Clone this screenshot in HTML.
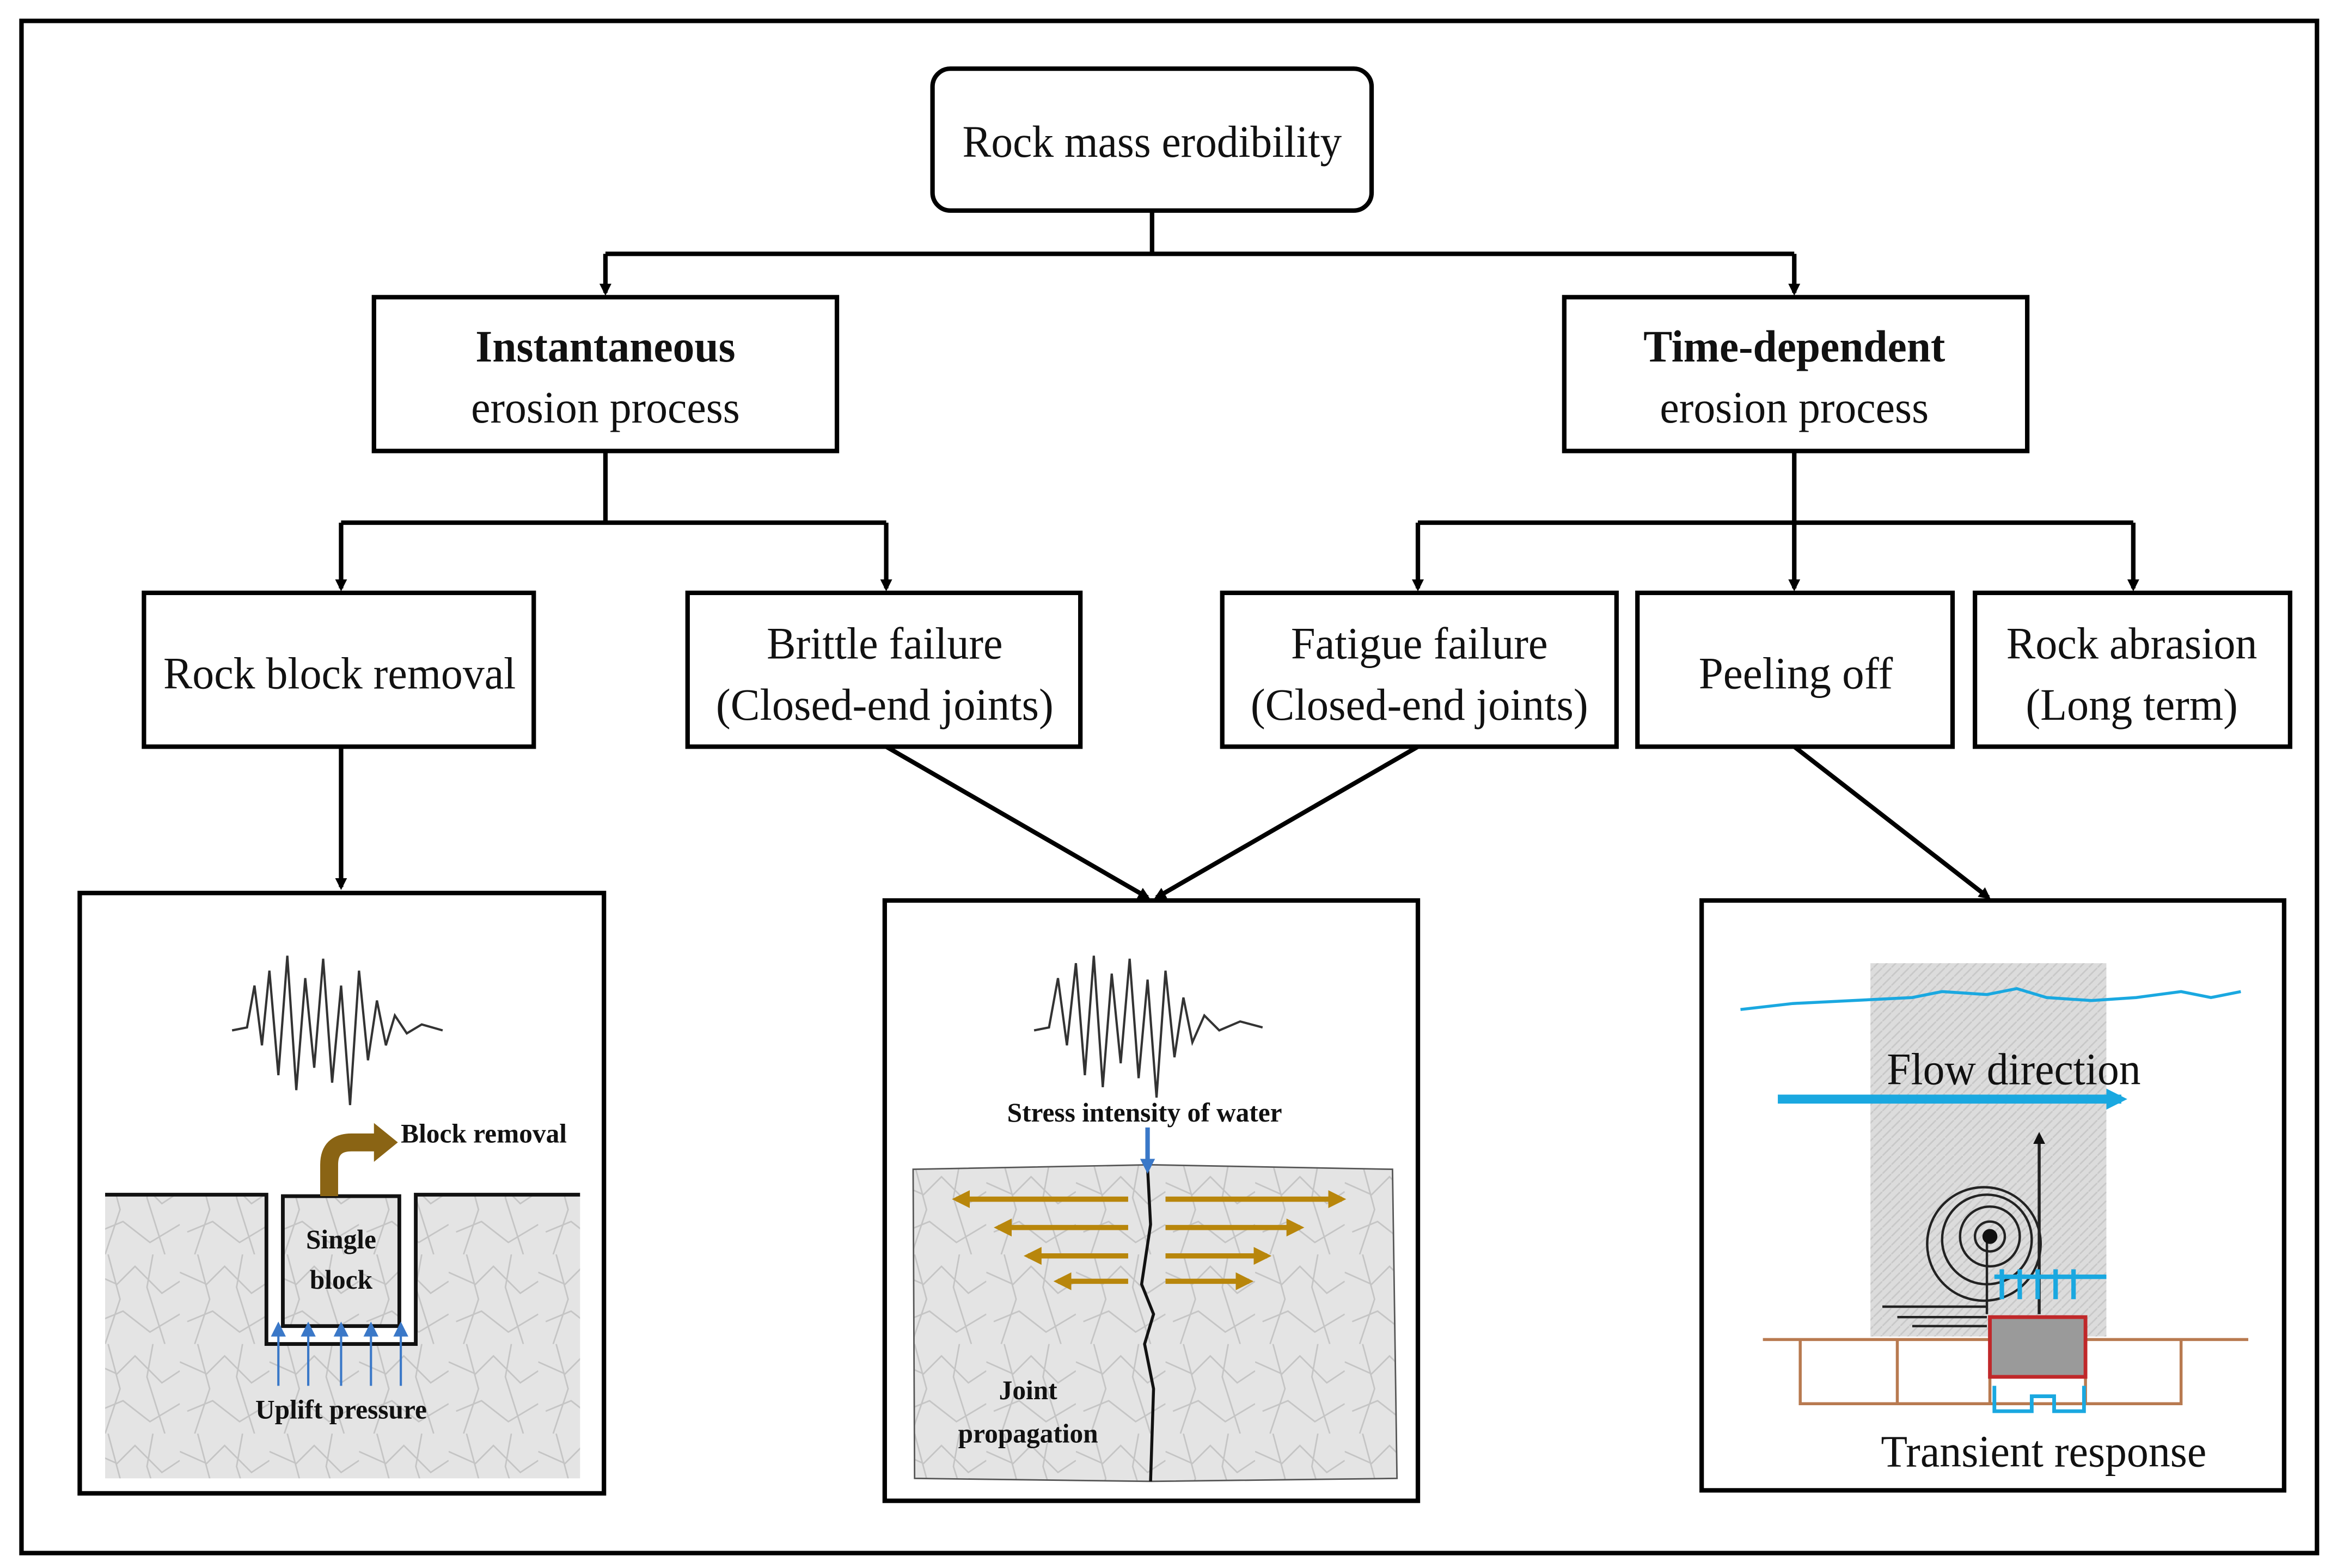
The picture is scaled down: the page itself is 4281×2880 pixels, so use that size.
<!DOCTYPE html>
<html><head><meta charset="utf-8"><style>html,body{margin:0;padding:0;background:#fff}svg{display:block}</style></head><body>
<svg xmlns="http://www.w3.org/2000/svg" width="4281" height="2880" viewBox="0 0 1560 1050">
<defs>
<marker id="ah" markerWidth="8" markerHeight="8" refX="6" refY="4" orient="auto" markerUnits="userSpaceOnUse"><path d="M0,0 L8,4 L0,8 z" fill="#000"/></marker>
<marker id="ab" markerWidth="10" markerHeight="10" refX="7" refY="5" orient="auto" markerUnits="userSpaceOnUse"><path d="M0,0 L10,5 L0,10 z" fill="#3a78c8"/></marker>
<marker id="ao" markerWidth="12" markerHeight="12" refX="9" refY="6" orient="auto" markerUnits="userSpaceOnUse"><path d="M0,0 L12,6 L0,12 z" fill="#b8860b"/></marker>
<marker id="ac" markerWidth="14" markerHeight="14" refX="10" refY="7" orient="auto" markerUnits="userSpaceOnUse"><path d="M0,0 L14,7 L0,14 z" fill="#1aa8e0"/></marker>
<marker id="ak" markerWidth="8" markerHeight="8" refX="6" refY="4" orient="auto" markerUnits="userSpaceOnUse"><path d="M0,0 L8,4 L0,8 z" fill="#111"/></marker>
<pattern id="marble" width="60" height="60" patternUnits="userSpaceOnUse">
<rect width="60" height="60" fill="#e4e4e4"/>
<path d="M0,12 L18,20 L30,8 L48,26 L60,18 M5,45 L22,38 L40,52 L60,40 M12,0 L20,30 L10,60 M42,0 L38,22 L50,60" stroke="#c4c4c4" stroke-width="1" fill="none"/>
</pattern>
<pattern id="hatch" width="6" height="6" patternUnits="userSpaceOnUse">
<rect width="6" height="6" fill="#dcdcdc"/><path d="M0,6 L6,0" stroke="#c8c8c8" stroke-width="1"/>
</pattern>
</defs>
<g font-family="'Liberation Serif', serif" fill="#111">
<rect x="14" y="14" width="1537" height="1026" fill="none" stroke="#000" stroke-width="3"/>
<rect x="624" y="46" width="294" height="95" rx="12" fill="none" stroke="#000" stroke-width="3"/>
<text x="771" y="105" font-size="30" text-anchor="middle" textLength="254" lengthAdjust="spacingAndGlyphs">Rock mass erodibility</text>
<g stroke="#000" stroke-width="3" fill="none">
<path d="M771,141 V170 M405,170 H1201"/>
<path d="M405,170 V196" marker-end="url(#ah)"/><path d="M1201,170 V196" marker-end="url(#ah)"/>
<path d="M405,302 V350 M228,350 H593 M1201,302 V350 M949,350 H1428"/>
<path d="M228,350 V394" marker-end="url(#ah)"/><path d="M593,350 V394" marker-end="url(#ah)"/>
<path d="M949,350 V394" marker-end="url(#ah)"/><path d="M1201,350 V394" marker-end="url(#ah)"/><path d="M1428,350 V394" marker-end="url(#ah)"/>
<path d="M228,500 V594" marker-end="url(#ah)"/>
<path d="M593,500 L768,601" marker-end="url(#ah)"/><path d="M949,500 L774,601" marker-end="url(#ah)"/>
<path d="M1201,500 L1331,601" marker-end="url(#ah)"/>
<rect x="250" y="199" width="310" height="103"/><rect x="1047" y="199" width="310" height="103"/>
<rect x="96" y="397" width="261" height="103"/><rect x="460" y="397" width="263" height="103"/>
<rect x="818" y="397" width="264" height="103"/><rect x="1096" y="397" width="211" height="103"/>
<rect x="1322" y="397" width="211" height="103"/>
<rect x="53" y="598" width="351" height="402"/><rect x="592" y="603" width="357" height="402"/>
<rect x="1139" y="603" width="390" height="395"/>
</g>
<text x="405" y="242" font-size="30" font-weight="bold" text-anchor="middle" textLength="174" lengthAdjust="spacingAndGlyphs">Instantaneous</text>
<text x="405" y="283" font-size="30" text-anchor="middle" textLength="180" lengthAdjust="spacingAndGlyphs">erosion process</text>
<text x="1201" y="242" font-size="30" font-weight="bold" text-anchor="middle" textLength="202" lengthAdjust="spacingAndGlyphs">Time-dependent</text>
<text x="1201" y="283" font-size="30" text-anchor="middle" textLength="180" lengthAdjust="spacingAndGlyphs">erosion process</text>
<text x="227" y="461" font-size="30" text-anchor="middle" textLength="236" lengthAdjust="spacingAndGlyphs">Rock block removal</text>
<text x="592" y="441" font-size="30" text-anchor="middle" textLength="158" lengthAdjust="spacingAndGlyphs">Brittle failure</text>
<text x="592" y="482" font-size="30" text-anchor="middle" textLength="226" lengthAdjust="spacingAndGlyphs">(Closed-end joints)</text>
<text x="950" y="441" font-size="30" text-anchor="middle" textLength="172" lengthAdjust="spacingAndGlyphs">Fatigue failure</text>
<text x="950" y="482" font-size="30" text-anchor="middle" textLength="226" lengthAdjust="spacingAndGlyphs">(Closed-end joints)</text>
<text x="1202" y="461" font-size="30" text-anchor="middle" textLength="130" lengthAdjust="spacingAndGlyphs">Peeling off</text>
<text x="1427" y="441" font-size="30" text-anchor="middle" textLength="168" lengthAdjust="spacingAndGlyphs">Rock abrasion</text>
<text x="1427" y="482" font-size="30" text-anchor="middle" textLength="142" lengthAdjust="spacingAndGlyphs">(Long term)</text>

<!-- left panel -->
<path d="M70,800 H178 V900 H278 V800 H388 V990 H70 Z" fill="url(#marble)"/>
<path d="M70,800 H178 V900 H278 V800 H388" fill="none" stroke="#111" stroke-width="2.5"/>
<rect x="189" y="801" width="78" height="87" fill="url(#marble)" stroke="#111" stroke-width="2.5"/>
<path d="M155,690 L165,688 L170,660 L175,700 L180,650 L186,720 L192,640 L198,730 L204,655 L210,715 L216,642 L222,725 L228,660 L234,740 L240,650 L246,710 L252,670 L258,700 L264,680 L272,692 L282,686 L296,690" fill="none" stroke="#333" stroke-width="1.5"/>
<path d="M220,801 V780 Q220,765 235,765 H252" fill="none" stroke="#8a6414" stroke-width="12"/>
<path d="M250,752 L266,765 L250,778 Z" fill="#8a6414"/>
<text x="268" y="765" font-size="18" font-weight="bold">Block removal</text>
<text x="228" y="836" font-size="18" font-weight="bold" text-anchor="middle">Single</text>
<text x="228" y="863" font-size="18" font-weight="bold" text-anchor="middle">block</text>
<g stroke="#3a78c8" stroke-width="1.5">
<path d="M186,928 V888" marker-end="url(#ab)"/><path d="M206,928 V888" marker-end="url(#ab)"/><path d="M228,928 V888" marker-end="url(#ab)"/><path d="M248,928 V888" marker-end="url(#ab)"/><path d="M268,928 V888" marker-end="url(#ab)"/>
</g>
<text x="228" y="950" font-size="18" font-weight="bold" text-anchor="middle">Uplift pressure</text>

<!-- middle panel -->
<path d="M611,783 L770,780 L932,783 L935,990 L770,992 L612,990 Z" fill="url(#marble)" stroke="#555" stroke-width="1"/>
<path d="M768,782 L770,820 L764,860 L772,880 L766,900 L772,930 L770,992" fill="none" stroke="#111" stroke-width="2"/>
<path d="M692,690 L702,688 L708,655 L714,700 L720,645 L726,720 L732,640 L738,728 L744,652 L750,712 L756,642 L762,722 L768,656 L774,735 L780,650 L786,708 L792,668 L798,698 L806,680 L816,690 L830,684 L845,688" fill="none" stroke="#333" stroke-width="1.5"/>
<text x="766" y="751" font-size="18" font-weight="bold" text-anchor="middle">Stress intensity of water</text>
<path d="M768,755 V783" stroke="#3a78c8" stroke-width="3" marker-end="url(#ab)"/>
<g stroke="#b8860b" stroke-width="3.5">
<path d="M755,803 H640" marker-end="url(#ao)"/><path d="M755,822 H668" marker-end="url(#ao)"/><path d="M755,841 H688" marker-end="url(#ao)"/><path d="M755,858 H708" marker-end="url(#ao)"/>
<path d="M780,803 H898" marker-end="url(#ao)"/><path d="M780,822 H870" marker-end="url(#ao)"/><path d="M780,841 H848" marker-end="url(#ao)"/><path d="M780,858 H836" marker-end="url(#ao)"/>
</g>
<text x="688" y="937" font-size="18" font-weight="bold" text-anchor="middle">Joint</text>
<text x="688" y="966" font-size="18" font-weight="bold" text-anchor="middle">propagation</text>

<!-- right panel -->
<rect x="1252" y="645" width="158" height="250" fill="url(#hatch)"/>
<path d="M1165,676 L1200,672 L1240,670 L1280,668 L1300,664 L1330,666 L1350,662 L1370,668 L1400,670 L1430,668 L1460,664 L1480,668 L1500,664" fill="none" stroke="#1aa8e0" stroke-width="2"/>
<text x="1348" y="726" font-size="30" text-anchor="middle" textLength="170" lengthAdjust="spacingAndGlyphs">Flow direction</text>
<path d="M1190,736 H1420" stroke="#1aa8e0" stroke-width="6" marker-end="url(#ac)"/>
<path d="M1180,897 H1505 M1205,897 V940 H1270 V897 M1270,940 H1460 V897 M1332,940 V897 M1396,940 V897" fill="none" stroke="#b87a50" stroke-width="2"/>
<g fill="none" stroke="#222" stroke-width="1.6">
<circle cx="1332" cy="828" r="10"/><circle cx="1332" cy="828" r="20"/><circle cx="1330" cy="830" r="30"/><circle cx="1328" cy="833" r="38"/>
<path d="M1260,875 H1330 M1270,882 H1330 M1280,888 H1330"/>
<path d="M1365,880 V760" stroke-width="2" marker-end="url(#ak)"/>
<path d="M1330,828 V880"/>
</g>
<circle cx="1332" cy="828" r="5" fill="#111"/>
<rect x="1332" y="882" width="64" height="40" fill="#9a9a9a" stroke="#c0282a" stroke-width="2.5"/>
<g stroke="#1aa8e0" stroke-width="3"><path d="M1335,855 H1410 M1340,850 V870 M1352,850 V870 M1364,850 V870 M1376,850 V870 M1388,850 V870"/></g>
<path d="M1335,928 V945 H1360 V935 H1375 V945 H1395 V928" fill="none" stroke="#1aa8e0" stroke-width="2.5"/>
<text x="1368" y="982" font-size="30" text-anchor="middle" textLength="218" lengthAdjust="spacingAndGlyphs">Transient response</text>
</g>
</svg>
</body></html>
